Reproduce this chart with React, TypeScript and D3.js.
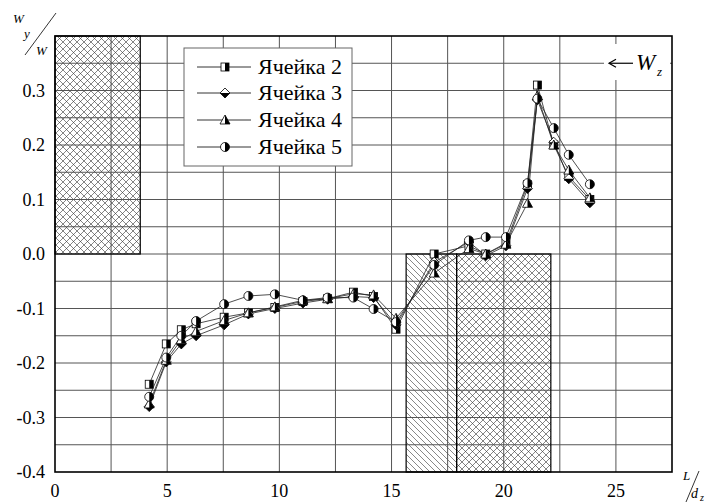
import React from 'react';
import * as d3 from 'd3';

// positions along L/dz
const xs = [4.2, 4.96, 5.63, 6.29, 7.54, 8.62, 9.8, 11.05, 12.15, 13.3, 14.2, 15.2, 16.9, 18.45, 19.2, 20.1, 21.06, 21.5, 22.23, 22.9, 23.84];

const cell2 = [-0.239, -0.165, -0.139, -0.128, -0.116, -0.108, -0.098, -0.087, -0.082, -0.07, -0.078, -0.138, 0.0, 0.015, 0.0, 0.02, 0.127, 0.31, 0.2, 0.142, 0.1];
const cell3 = [-0.28, -0.198, -0.165, -0.15, -0.13, -0.11, -0.1, -0.09, -0.083, -0.078, -0.08, -0.13, -0.015, 0.022, -0.003, 0.015, 0.12, 0.283, 0.205, 0.138, 0.094];
const cell4 = [-0.275, -0.195, -0.157, -0.142, -0.122, -0.108, -0.097, -0.085, -0.082, -0.073, -0.075, -0.118, -0.035, 0.01, 0.0, 0.018, 0.093, 0.29, 0.2, 0.154, 0.103];
const cell5 = [-0.262, -0.19, -0.15, -0.123, -0.092, -0.077, -0.074, -0.085, -0.08, -0.08, -0.101, -0.125, -0.02, 0.025, 0.031, 0.031, 0.13, 0.285, 0.231, 0.182, 0.128];

const seriesNames = ['Ячейка 2', 'Ячейка 3', 'Ячейка 4', 'Ячейка 5'];
const seriesValues = [cell2, cell3, cell4, cell5];
const seriesMarkers = ['square', 'diamond', 'triangle', 'circle'];

const xTicks = [0, 5, 10, 15, 20, 25];
const yTicks = [-0.4, -0.3, -0.2, -0.1, 0.0, 0.1, 0.2, 0.3];

// shaded zones: [x0, x1, y0, y1, pattern]
const zones: [number, number, number, number, string][] = [
  [0, 3.8, 0, 0.4, 'cross'],
  [15.65, 17.9, -0.4, 0, 'diag'],
  [17.9, 22.1, -0.4, 0, 'cross'],
];

const W = 708;
const H = 504;
const m = { left: 55, right: 36, top: 36, bottom: 32 };

const x = d3.scaleLinear().domain([0, 27.5]).range([m.left, W - m.right]);
const y = d3.scaleLinear().domain([-0.4, 0.4]).range([H - m.bottom, m.top]);

const serif = "'Liberation Serif', 'DejaVu Serif', serif";
const fmt = (v: number) => d3.format('.1f')(v).replace('\u2212', '-');

function Marker({ kind, cx, cy }: { kind: string; cx: number; cy: number }) {
  const s = 4;
  if (kind === 'square') {
    return (
      <g>
        <rect x={cx - s} y={cy - s} width={2 * s} height={2 * s} fill="#fff" stroke="#000" strokeWidth={0.8} />
        <rect x={cx} y={cy - s} width={s} height={2 * s} fill="#000" />
      </g>
    );
  }
  if (kind === 'diamond') {
    const r = 5;
    return (
      <g>
        <path d={`M${cx},${cy - r}L${cx + r},${cy}L${cx},${cy + r}L${cx - r},${cy}Z`} fill="#fff" stroke="#000" strokeWidth={0.8} />
        <path d={`M${cx - r},${cy}L${cx + r},${cy}L${cx},${cy + r}Z`} fill="#000" />
      </g>
    );
  }
  if (kind === 'triangle') {
    const r = 5;
    return (
      <g>
        <path d={`M${cx},${cy - r}L${cx + r},${cy + r * 0.8}L${cx - r},${cy + r * 0.8}Z`} fill="#fff" stroke="#000" strokeWidth={0.8} />
        <path d={`M${cx},${cy - r}L${cx + r},${cy + r * 0.8}L${cx},${cy + r * 0.8}Z`} fill="#000" />
      </g>
    );
  }
  const r = 4.5;
  return (
    <g>
      <circle cx={cx} cy={cy} r={r} fill="#fff" stroke="#000" strokeWidth={0.8} />
      <path d={`M${cx},${cy - r}A${r},${r} 0 0 1 ${cx},${cy + r}Z`} fill="#000" />
    </g>
  );
}

export default function App() {
  const line = d3.line<number>().x((_, i) => x(xs[i])).y(d => y(d));
  const xGrid = d3.range(2.5, 27.5, 2.5);
  const yGrid = d3.range(-0.35, 0.4, 0.05);
  const legendRows = [67, 93, 120, 147];

  return (
    <svg width={W} height={H} style={{ position: 'absolute', left: 0, top: 0, background: '#fff' }} fontFamily={serif}>
      <defs>
        <pattern id="cross" width={7} height={7} patternUnits="userSpaceOnUse">
          <path d="M0,0L7,7M7,0L0,7" stroke="#333" strokeWidth={0.6} />
        </pattern>
        <pattern id="diag" width={6} height={6} patternUnits="userSpaceOnUse">
          <path d="M-1,-1L7,7M-4,2L2,8M2,-4L8,2" stroke="#555" strokeWidth={0.7} />
        </pattern>
      </defs>

      {zones.map(([a, b, c, d, p], i) => (
        <rect key={'z' + i} x={x(a)} y={y(d)} width={x(b) - x(a)} height={y(c) - y(d)} fill={`url(#${p})`} />
      ))}

      {/* grid */}
      {xGrid.map(v => (
        <line key={'gx' + v} x1={x(v)} x2={x(v)} y1={y(-0.4)} y2={y(0.4)} stroke="#555" strokeWidth={1} />
      ))}
      {yGrid.map(v => (
        <line key={'gy' + v} x1={x(0)} x2={x(27.5)} y1={y(v)} y2={y(v)} stroke="#555" strokeWidth={1} />
      ))}

      {zones.map(([a, b, c, d], i) => (
        <rect key={'zb' + i} x={x(a)} y={y(d)} width={x(b) - x(a)} height={y(c) - y(d)} fill="none" stroke="#000" strokeWidth={1.2} />
      ))}

      {/* W_z annotation */}
      <rect x={604} y={44} width={66} height={36} fill="#fff" />
      <line x1={609} x2={633} y1={y(0.35)} y2={y(0.35)} stroke="#000" strokeWidth={1.2} />
      <path d={`M616,${y(0.35) - 4}L609,${y(0.35)}L616,${y(0.35) + 4}`} fill="none" stroke="#000" strokeWidth={1.2} />
      <text x={636} y={70} fontSize={23} fontStyle="italic">W</text>
      <text x={657} y={76} fontSize={13} fontStyle="italic">z</text>

      {/* frame */}
      <rect x={x(0)} y={y(0.4)} width={x(27.5) - x(0)} height={y(-0.4) - y(0.4)} fill="none" stroke="#000" strokeWidth={1.6} />

      {/* series */}
      {seriesValues.map((vals, si) => (
        <path key={'l' + si} d={line(vals) || ''} fill="none" stroke="#222" strokeWidth={0.8} />
      ))}
      {seriesValues.map((vals, si) => (
        <g key={'m' + si}>
          {vals.map((v, i) => (
            <Marker key={i} kind={seriesMarkers[si]} cx={x(xs[i])} cy={y(v)} />
          ))}
        </g>
      ))}

      {/* ticks */}
      {yTicks.map(v => (
        <text key={'ty' + v} x={45} y={y(v) + 6} fontSize={18} textAnchor="end">{fmt(v)}</text>
      ))}
      {xTicks.map(v => (
        <text key={'tx' + v} x={x(v)} y={497} fontSize={18} textAnchor="middle">{v}</text>
      ))}

      {/* legend */}
      <rect x={184} y={48} width={168} height={118} fill="#fff" stroke="#666" strokeWidth={1} />
      {seriesNames.map((name, i) => (
        <g key={'lg' + i}>
          <line x1={197} x2={251} y1={legendRows[i]} y2={legendRows[i]} stroke="#000" strokeWidth={0.8} />
          <Marker kind={seriesMarkers[i]} cx={225} cy={legendRows[i]} />
          <text x={258} y={legendRows[i] + 7} fontSize={22}>{name}</text>
        </g>
      ))}

      {/* axis labels */}
      <text x={13} y={23} fontSize={13} fontStyle="italic">W</text>
      <text x={24} y={38} fontSize={13} fontStyle="italic">y</text>
      <line x1={56} y1={13} x2={25} y2={55} stroke="#000" strokeWidth={0.8} />
      <text x={36} y={55} fontSize={13} fontStyle="italic">W</text>

      <text x={683} y={480} fontSize={13} fontStyle="italic">L</text>
      <line x1={699} y1={471} x2={686} y2={502} stroke="#000" strokeWidth={0.8} />
      <text x={691} y={498} fontSize={14} fontStyle="italic">d</text>
      <text x={700} y={501} fontSize={10} fontStyle="italic">z</text>
    </svg>
  );
}
